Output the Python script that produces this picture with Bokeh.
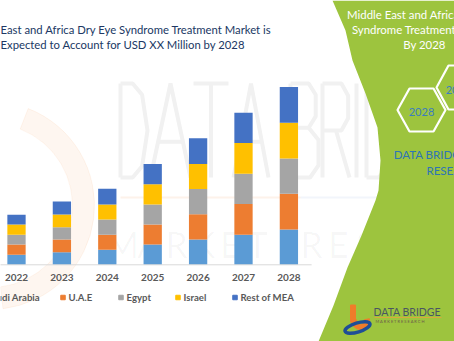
from bokeh.plotting import figure
from bokeh.models import Range1d
from bokeh.embed import file_html
from bokeh.resources import INLINE
from bokeh.core.properties import value

# ---------------- data ----------------
years = [2022, 2023, 2024, 2025, 2026, 2027, 2028]
series = ["Saudi Arabia", "U.A.E", "Egypt", "Israel", "Rest of MEA"]
saudi_arabia = [10.0, 12.6, 15.0, 20.3, 25.3, 30.0, 35.3]
uae = [10.3, 12.7, 15.0, 20.0, 25.3, 30.7, 35.7]
egypt = [9.7, 12.3, 15.3, 20.0, 25.3, 30.3, 35.3]
israel = [10.3, 12.7, 15.0, 20.3, 25.0, 30.7, 35.7]
rest_of_mea = [9.7, 13.0, 15.7, 20.3, 25.7, 30.3, 35.7]
colors = ["#5b9bd5", "#ed7d31", "#a5a5a5", "#ffc000", "#4472c4"]
title_lines = ["East and Africa Dry Eye Syndrome Treatment Market is",
               "Expected to Account for USD XX Million by 2028"]
panel_lines = ["Middle East and Africa Dry Eye", "Syndrome Treatment Market,", "By 2028"]

W, H = 454, 341
FONT = value("Lato")

p = figure(width=W, height=H, output_backend="svg", toolbar_location=None,
           x_axis_type=None, y_axis_type=None, min_border=0,
           x_range=Range1d(2022 - 16 / 45.4, 2022 + (W - 16) / 45.4),
           y_range=Range1d(-(H - 264.3), 264.3))
p.outline_line_color = None
p.grid.visible = False
p.background_fill_color = "white"
p.border_fill_color = "white"
p.extra_x_ranges = {"px": Range1d(0, W)}
p.extra_y_ranges = {"py": Range1d(H, 0)}
PX = dict(x_range_name="px", y_range_name="py")

# ---------------- faint watermark ----------------
p.annular_wedge(x=[-10], y=[205], inner_radius=82, outer_radius=104,
                start_angle=-1.45, end_angle=1.2, color="#ed7d31", alpha=0.07, **PX)

glyph_strokes = {
    "D": [[(0, 0), (0, 1)], [(0, 0), (0.45, 0), (0.8, 0.12), (1, 0.5), (0.8, 0.88), (0.45, 1), (0, 1)]],
    "A": [[(0, 1), (0.5, 0), (1, 1)], [(0.2, 0.62), (0.8, 0.62)]],
    "T": [[(0, 0), (1, 0)], [(0.5, 0), (0.5, 1)]],
    "B": [[(0, 0), (0, 1)], [(0, 0), (0.65, 0), (0.9, 0.12), (0.9, 0.35), (0.65, 0.47), (0, 0.47)],
          [(0.65, 0.47), (1, 0.6), (1, 0.87), (0.7, 1), (0, 1)]],
    "R": [[(0, 0), (0, 1)], [(0, 0), (0.7, 0), (0.95, 0.13), (0.95, 0.37), (0.7, 0.5), (0, 0.5)],
          [(0.5, 0.5), (1, 1)]],
    "I": [[(0.5, 0), (0.5, 1)]],
}
wm_letters = [("D", 120, 27), ("A", 150, 40), ("T", 193, 35), ("A", 233, 35),
              ("B", 290, 28), ("R", 322, 27), ("I", 352, 8), ("D", 366, 27)]
wx, wy = [], []
for ch, left, wdt in wm_letters:
    for stroke in glyph_strokes[ch]:
        wx.append([left + u * wdt for u, v in stroke])
        wy.append([83 + v * 94 for u, v in stroke])
p.multi_line(xs=wx, ys=wy, line_color="#f1f1f1", line_width=4, **PX)
p.segment(x0=[120], y0=[197], x1=[300], y1=[197], line_color="#ed7d31", line_alpha=0.1,
          line_width=2, **PX)
p.segment(x0=[300], y0=[197], x1=[454], y1=[197], line_color="#4472c4", line_alpha=0.07,
          line_width=2, **PX)
wm2 = "MARKET RESEARCH"
idx = [i for i in range(len(wm2)) if 122 + 27 * i < 400]
p.text(x=[122 + 27 * i for i in idx], y=[243] * len(idx), text=[wm2[i] for i in idx],
       text_font=FONT, text_font_size="36px", text_color="#000000", text_alpha=0.03,
       text_align="center", text_baseline="middle", **PX)

# ---------------- bars ----------------
src = dict(year=years, saudi_arabia=saudi_arabia, uae=uae, egypt=egypt,
           israel=israel, rest_of_mea=rest_of_mea)
keys = ["saudi_arabia", "uae", "egypt", "israel", "rest_of_mea"]
p.vbar_stack(keys, x="year", width=0.403, color=colors, source=src, line_color=None)

# baseline
p.segment(x0=[years[0] - 0.5], y0=[0], x1=[years[-1] + 0.5], y1=[0],
          line_color="#d9d9d9", line_width=1)

# year labels
p.text(x=years, y=[-13] * len(years), text=[str(y) for y in years], text_font=FONT,
       text_font_size="10px", text_font_style="bold", text_color="#595959",
       text_align="center", text_baseline="middle")

# legend (manual, horizontal)
leg_x = [-22, 60, 118, 175, 232]
p.rect(x=[lx + 2.5 for lx in leg_x], y=[297] * 5, width=4.5, height=4.5,
       color=colors, **PX)
p.text(x=[lx + 8 for lx in leg_x], y=[297] * 5, text=series, text_font=FONT,
       text_font_size="9.6px", text_font_style="bold", text_color="#595959",
       text_baseline="middle", **PX)

# title
p.text(x=[0, 0], y=[29, 44], text=title_lines, text_font=FONT, text_font_size="11.3px",
       text_color="#203864", text_baseline="middle", **PX)

# ---------------- green panel ----------------
bx = [332, 345, 352, 365, 377, 380, 378, 375, 361, 347, 333, 318, 454, 454]
by = [0, 30, 60, 93, 127, 160, 190, 200, 235, 267, 305, 341, 341, 0]
p.patch(x=bx, y=by, color="#9dc43e", line_color=None, **PX)

p.text(x=[424] * 3, y=[14, 29, 44], text=panel_lines, text_font=FONT,
       text_font_size="11.4px", text_color="white", text_align="center",
       text_baseline="middle", **PX)

def hexagon(cx, cy, hw=24, hh=21.5):
    return ([cx - hw, cx - hw / 2, cx + hw / 2, cx + hw, cx + hw / 2, cx - hw / 2],
            [cy, cy - hh, cy - hh, cy, cy + hh, cy + hh])

hx1, hy1 = hexagon(421, 109.5)
hx2, hy2 = hexagon(460, 87, hh=22)
p.patches(xs=[hx1, hx2], ys=[hy1, hy2], fill_color=None, line_color="white",
          line_width=2.2, **PX)
p.text(x=[421, 458], y=[111, 89], text=["2028", "2022"], text_font=FONT,
       text_font_size="11px", text_color="#3b7dbf", text_align="center",
       text_baseline="middle", **PX)

p.text(x=[455, 455], y=[154, 170], text=["DATA BRIDGE MARKET", "RESEARCH"], text_font=FONT,
       text_font_size="11.5px", text_color="#2e75b6", text_align="center",
       text_baseline="middle", **PX)

# logo bottom right
p.rect(x=[352.5], y=[313], width=5, height=17, color="#f07c2a", **PX)
p.annular_wedge(x=[360], y=[320], inner_radius=4, outer_radius=9, start_angle=-3.3,
                end_angle=0.2, color="#f07c2a", **PX)
p.ellipse(x=[357], y=[327], width=26, height=9, angle=0.3, fill_color=None,
          line_color="#1f4e96", line_width=3.5, **PX)
p.segment(x0=[374], y0=[317], x1=[441], y1=[317], line_color="#e6a23c", line_width=0.8, **PX)
p.text(x=[373], y=[311], text=["DATA BRIDGE"], text_font=FONT,
       text_font_size="10.5px", text_color="#4a5563", text_baseline="middle", **PX)
p.text(x=[375], y=[320.5], text=["M A R K E T    R E S E A R C H"], text_font=FONT,
       text_font_size="4px", text_color="#6b5a4a", text_baseline="middle", **PX)

open("out.html", "w").write(file_html(p, INLINE))
